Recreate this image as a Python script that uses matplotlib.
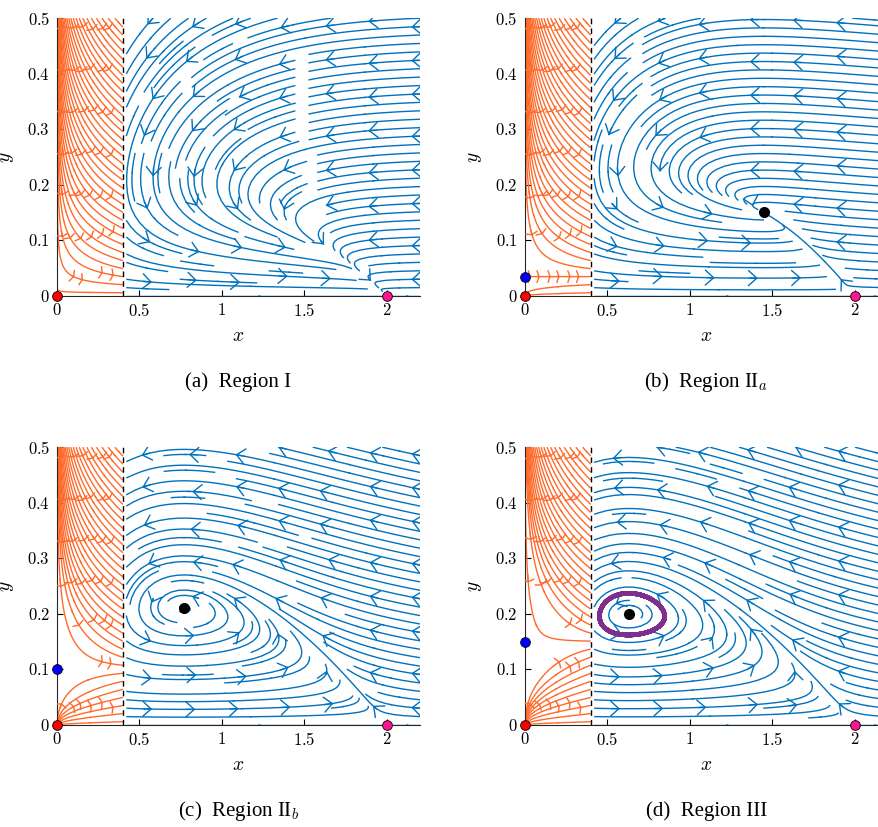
import numpy as np
import matplotlib
matplotlib.use('Agg')
import matplotlib.pyplot as plt
from matplotlib.patches import FancyArrowPatch

plt.rcParams['mathtext.fontset'] = 'cm'
plt.rcParams['font.family'] = 'Liberation Serif'

# model: logistic prey + Holling II predator for x > x_sw, refuge below
K = 2.0
b = 0.71
C = 1.0
x_sw = 0.4
c_ref = 0.16    # predator decline speed in the refuge zone
s_ref = 0.03    # width of the saturation near y*
h_ref = 0.3     # half-saturation of predator response in the refuge zone

# per panel values
m_vals = [0.80, 0.671, 0.520, 0.470]    # predator death rate (right side)
a_vals = [4.3, 3.96, 4.33, 4.59]        # attack rate (right side)
ystar_vals = [0.0, 0.035, 0.10, 0.15]   # predator level on alternative food (left side)
captions = ['(a)  Region I', '(b)  Region II$_a$', '(c)  Region II$_b$', '(d)  Region III']
interior = [False, True, True, True]
limit_cycle = [False, False, False, True]

xticks = [0, 0.5, 1, 1.5, 2]
xtick_labels = ['0', '0.5', '1', '1.5', '2']
yticks = [0, 0.1, 0.2, 0.3, 0.4, 0.5]
ytick_labels = ['0', '0.1', '0.2', '0.3', '0.4', '0.5']

blue = '#0072BD'
orange = '#FF6A2B'


def right_field(x, y, m, a):
    dx = x * (1 - x / K) - a * x * y / (b + x)
    dy = y * (C * x / (b + x) - m)
    return dx, dy


def left_field(x, y, ys):
    dx = x * (1 - x / K)
    dy = -c_ref * np.tanh((y - ys) / s_ref) * y / (y + h_ref)
    return dx, dy


def rk4_path(p, m, a, h, n):
    def f(q):
        return np.array(right_field(q[0], q[1], m, a))
    pts = [p]
    for _ in range(n):
        k1 = f(p); k2 = f(p + h / 2 * k1); k3 = f(p + h / 2 * k2); k4 = f(p + h * k3)
        p = p + h / 6 * (k1 + 2 * k2 + 2 * k3 + k4)
        pts.append(p)
    return np.array(pts)


def add_arrows(ax, sp, gx, gy, tol, color, style, scale):
    # put arrow heads on the streamlines where they pass close to a coarse grid
    p0s, p1s = [], []
    for line in sp.lines.get_segments():
        line = np.asarray(line)
        if len(line) < 2:
            continue
        p0s.append(line[:-1])
        p1s.append(line[1:])
    if not p0s:
        return
    p0s = np.vstack(p0s)
    p1s = np.vstack(p1s)
    mid = 0.5 * (p0s + p1s)
    sx, sy = 165.0, 556.0
    for x0 in gx:
        for y0 in gy:
            d = np.hypot((mid[:, 0] - x0) * sx, (mid[:, 1] - y0) * sy)
            j = np.argmin(d)
            if d[j] > tol:
                continue
            ax.add_patch(FancyArrowPatch(p0s[j], p1s[j], arrowstyle=style, color=color,
                                         mutation_scale=scale, lw=1.0,
                                         shrinkA=0, shrinkB=0, zorder=3))


fig = plt.figure(figsize=(8.79, 8.27), dpi=100)
lefts = [0.0648, 0.597, 0.0648, 0.597]
bottoms = [0.642, 0.642, 0.1233, 0.1233]

xl = np.linspace(0.0, x_sw, 80)
yl = np.linspace(0.0, 0.5, 250)
XL, YL = np.meshgrid(xl, yl)
xr = np.linspace(0.42, 2.2, 200)
yr = np.linspace(0.0, 0.5, 120)
XR, YR = np.meshgrid(xr, yr)

# seeds for the refuge side, along the switching line
side_y = np.arange(0.006, 0.5, 0.0145)
seeds = np.column_stack([np.full_like(side_y, x_sw - 0.002), side_y])

# coarse grids where arrow heads go
arrow_gx_r = np.arange(0.56, 2.2, 0.27)
arrow_gy_r = np.arange(0.03, 0.5, 0.066)
arrow_gx_l = np.arange(0.03, 0.39, 0.06)
arrow_gy_l = np.arange(0.035, 0.5, 0.075)

for i in range(4):
    ax = fig.add_axes([lefts[i], bottoms[i], 0.413, 0.336])
    m = m_vals[i]
    a = a_vals[i]
    ys = ystar_vals[i]

    U, V = left_field(XL, YL, ys)
    sp = ax.streamplot(XL, YL, U, V, start_points=seeds, broken_streamlines=False,
                       color=orange, linewidth=1.0, arrowstyle='-', arrowsize=0.01)
    add_arrows(ax, sp, arrow_gx_l, arrow_gy_l, 4.0, orange,
               '->,head_length=0.25,head_width=0.7', 6)

    U, V = right_field(XR, YR, m, a)
    sp = ax.streamplot(XR, YR, U, V, density=(1.15, 1.15), color=blue, linewidth=1.0,
                       arrowstyle='-', arrowsize=0.01)
    add_arrows(ax, sp, arrow_gx_r, arrow_gy_r, 9.0, blue,
               '->,head_length=0.5,head_width=0.45', 12)

    ax.plot([x_sw, x_sw], [0, 0.5], color='k', ls='--', lw=1.0, dashes=(4, 3))

    if limit_cycle[i]:
        p0 = np.array([0.8, 0.2])
        settle = rk4_path(p0, m, a, 0.02, 60000)
        cyc = rk4_path(settle[-1], m, a, 0.02, 6000)
        ax.plot(cyc[:, 0], cyc[:, 1], color='#7E2F8E', lw=3.2, zorder=4)

    ax.plot(0, 0, 'o', ms=7, mfc='#FF0000', mec='k', mew=0.6, clip_on=False, zorder=6)
    if ys > 0:
        ax.plot(0, ys, 'o', ms=7, mfc='#0000FF', mec='k', mew=0.6, clip_on=False, zorder=6)
    ax.plot(K, 0, 'o', ms=7, mfc='#FF1493', mec='k', mew=0.6, clip_on=False, zorder=6)
    if interior[i]:
        xs = b * m / (C - m)
        yst = (1 - xs / K) * (b + xs) / a
        ax.plot(xs, yst, 'o', ms=7, mfc='k', mec='k', clip_on=False, zorder=6)

    ax.set_xlim(0, 2.2)
    ax.set_ylim(0, 0.5)
    ax.spines['top'].set_visible(False)
    ax.spines['right'].set_visible(False)
    for s in ['left', 'bottom']:
        ax.spines[s].set_color('#262626')
        ax.spines[s].set_linewidth(0.8)
    ax.set_xticks(xticks)
    ax.set_xticklabels(['$' + t + '$' for t in xtick_labels])
    ax.set_yticks(yticks)
    ax.set_yticklabels(['$' + t + '$' for t in ytick_labels])
    ax.tick_params(direction='in', length=4, labelsize=12, pad=5)
    ax.set_xlabel('$x$', fontsize=14, labelpad=6)
    ax.set_ylabel('$y$', fontsize=14, labelpad=8)
    ax.text(0.5, -0.31, captions[i], transform=ax.transAxes, ha='center', va='center',
            fontsize=15)

fig.savefig('out.png', dpi=100)
